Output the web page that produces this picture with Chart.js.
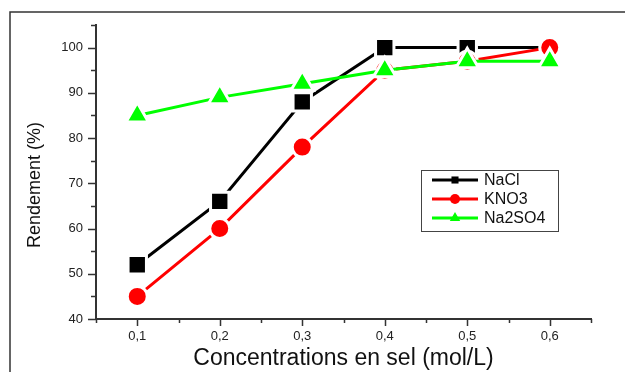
<!DOCTYPE html>
<html>
<head>
<meta charset="utf-8">
<script src="https://cdn.jsdelivr.net/npm/chart.js@4.4.1/dist/chart.umd.min.js"></script>
<style>
  html, body { margin: 0; padding: 0; background: #fff; }
  #wrap { position: relative; width: 625px; height: 372px; }
</style>
</head>
<body>
<div id="wrap"><canvas id="myChart" width="625" height="372"></canvas></div>
<script>
// salt concentrations (mol/L)
const concentrations = [0.1, 0.2, 0.3, 0.4, 0.5, 0.6];
// yield (%) for each salt
const naclYield = [52, 66, 88, 100, 100, 100];
const kno3Yield = [45, 60, 78, 95, 97, 100];
const na2so4Yield = [85, 89, 92, 95, 97, 97];

const seriesNames = ['NaCl', 'KNO3', 'Na2SO4'];
const seriesColors = ['#000000', '#ff0000', '#00ff00'];
const seriesShapes = ['rect', 'circle', 'triangle'];

const yMajorTicks = [40, 50, 60, 70, 80, 90, 100];
const xMajorTicks = [0.1, 0.2, 0.3, 0.4, 0.5, 0.6];

const ctx = document.getElementById('myChart').getContext('2d');
const axisColor = '#333333';
const fontFamily = '"Liberation Sans", Arial, sans-serif';

function toPoints(values) {
    return values.map((v, i) => ({ x: concentrations[i], y: v }));
}

function makeDataset(i, values, radius) {
    return {
        label: seriesNames[i],
        data: toPoints(values),
        borderColor: seriesColors[i],
        backgroundColor: seriesColors[i],
        borderWidth: 3,
        pointStyle: seriesShapes[i],
        pointRadius: radius,
        pointHoverRadius: radius,
        pointBackgroundColor: seriesColors[i],
        pointBorderColor: '#ffffff',
        pointBorderWidth: 3,
        order: 2 - i
    };
}

// outer frame, y title, minor/major ticks and the boxed legend
const decorations = {
    id: 'decorations',
    beforeDraw(chart) {
        const c = chart.ctx;
        c.save();
        c.strokeStyle = axisColor;
        c.lineWidth = 1.5;
        c.beginPath();
        c.moveTo(625, 12);
        c.lineTo(10, 12);
        c.lineTo(10, 372);
        c.stroke();

        c.translate(35, 185);
        c.rotate(-Math.PI / 2);
        c.fillStyle = '#111';
        c.font = '18px ' + fontFamily;
        c.textAlign = 'center';
        c.textBaseline = 'middle';
        c.fillText('Rendement (%)', 0, 0);
        c.restore();
    },
    afterDraw(chart) {
        const c = chart.ctx;
        const xs = chart.scales.x, ys = chart.scales.y;
        const area = chart.chartArea;
        c.save();
        c.strokeStyle = axisColor;
        c.lineWidth = 1.5;
        c.beginPath();
        for (let v = 40; v <= 105; v += 5) {
            const y = Math.round(ys.getPixelForValue(v)) + 0.5;
            const len = v % 10 === 0 ? 8 : 5;
            c.moveTo(area.left, y);
            c.lineTo(area.left - len, y);
        }
        for (let k = 1; k <= 13; k++) {
            const v = 0.05 * k;
            const x = Math.round(xs.getPixelForValue(v)) + 0.5;
            const len = k % 2 === 0 ? 7 : 4;
            c.moveTo(x, area.bottom);
            c.lineTo(x, area.bottom + len);
        }
        c.stroke();

        // legend
        const bx = 421, by = 170, bw = 137, bh = 61;
        c.lineWidth = 1;
        c.strokeStyle = '#444';
        c.strokeRect(bx + 0.5, by + 0.5, bw, bh);
        c.font = '16px ' + fontFamily;
        c.textBaseline = 'middle';
        chart.data.datasets.forEach((ds, i) => {
            const y = by + 10 + i * 19;
            c.strokeStyle = ds.borderColor;
            c.lineWidth = 3;
            c.beginPath();
            c.moveTo(432, y);
            c.lineTo(478, y);
            c.stroke();
            c.fillStyle = ds.borderColor;
            Chart.helpers.drawPoint(c, {
                pointStyle: ds.pointStyle,
                radius: ds.pointStyle === 'triangle' ? 6 : 5,
                borderWidth: 0,
                rotation: 0
            }, 455, y);
            c.fillStyle = '#111';
            c.fillText(ds.label, 484, y + 1);
        });
        c.restore();
    }
};

const chart = new Chart(ctx, {
    type: 'line',
    data: {
        datasets: [
            makeDataset(0, naclYield, 13),
            makeDataset(1, kno3Yield, 10),
            makeDataset(2, na2so4Yield, 13)
        ]
    },
    options: {
        responsive: false,
        animation: false,
        layout: { padding: { top: 25, right: 34, left: 0, bottom: 0 } },
        plugins: {
            legend: { display: false },
            tooltip: { enabled: false }
        },
        scales: {
            x: {
                type: 'linear',
                min: 0.05,
                max: 0.65,
                afterBuildTicks: scale => {
                    scale.ticks = xMajorTicks.map(v => ({ value: v }));
                },
                afterFit: scale => { scale.height = 53; },
                grid: { display: false, drawTicks: false },
                border: { display: true, color: axisColor, width: 2 },
                ticks: {
                    padding: 10,
                    color: '#222',
                    font: { family: fontFamily, size: 13 },
                    callback: v => v.toFixed(1).replace('.', ',')
                },
                title: {
                    display: true,
                    text: 'Concentrations en sel (mol/L)',
                    color: '#111',
                    padding: { bottom: 0, top: 0 },
                    font: { family: fontFamily, size: 23 }
                }
            },
            y: {
                min: 40,
                max: 105,
                afterBuildTicks: scale => {
                    scale.ticks = yMajorTicks.map(v => ({ value: v }));
                },
                afterFit: scale => { scale.width = 96; },
                grid: { display: false, drawTicks: false },
                border: { display: true, color: axisColor, width: 2 },
                ticks: {
                    padding: 13,
                    color: '#222',
                    font: { family: fontFamily, size: 13 }
                }
            }
        }
    },
    plugins: [decorations]
});
</script>
</body>
</html>
